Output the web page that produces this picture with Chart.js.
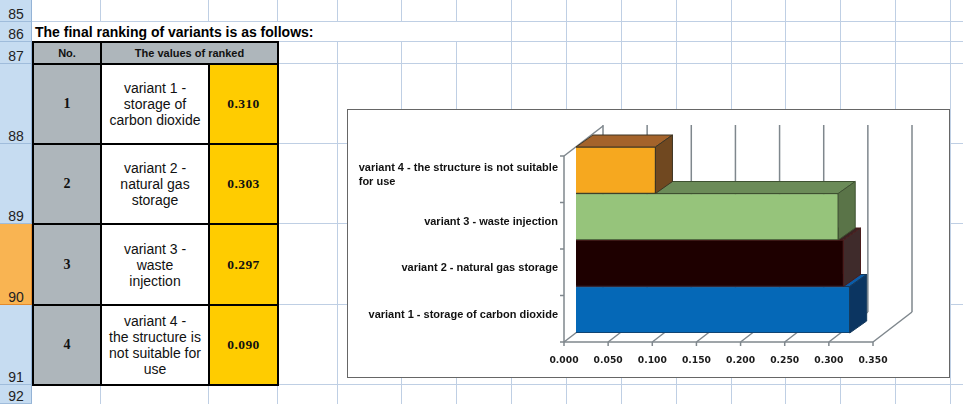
<!DOCTYPE html>
<html>
<head>
<meta charset="utf-8">
<script src="https://cdn.jsdelivr.net/npm/chart.js@4"></script>
<style>
body { margin: 0; width: 963px; height: 404px; overflow: hidden; background: #fff; position: relative;
       font-family: "Liberation Sans", Arial, sans-serif; color: #111; }
.a { position: absolute; box-sizing: border-box; }
#box { position: absolute; left: 347px; top: 109px; width: 603px; height: 269px; border: 1px solid #666;
       background: #fff; box-sizing: border-box; }
#chart { display: block; }
</style>
</head>
<body>
<div id="sheet"></div>
<div id="box"><canvas id="chart" width="601" height="267"></canvas></div>
<script>
// sheet texts
var rowNumbers = [85, 86, 87, 88, 89, 90, 91, 92];
var title      = 'The final ranking of variants is as follows:';
var headNo     = 'No.';
var headValues = 'The values of ranked';
var cellText   = ['variant 1 -<br>storage of<br>carbon dioxide',
                  'variant 2 -<br>natural gas<br>storage',
                  'variant 3 -<br>waste<br>injection',
                  'variant 4 -<br>the structure is<br>not suitable for<br>use'];

// chart data
var rankNo      = [1, 2, 3, 4];
var chartLabels = [['variant 1 - storage of carbon dioxide'],
                   ['variant 2 - natural gas storage'],
                   ['variant 3 - waste injection'],
                   ['variant 4 - the structure is not suitable', 'for use']];
var rankValues  = [0.310, 0.303, 0.297, 0.090];
var xTicks      = [0, 0.05, 0.10, 0.15, 0.20, 0.25, 0.30, 0.35];

// styles
var frontColors = ['#0568b7', '#1e0000', '#96c47b', '#f6a81f'];
var topColors   = ['#0b5ca8', '#3b2323', '#6b8b58', '#a4632b'];
var sideColors  = ['#0b3561', '#3f2b2b', '#5a7448', '#704820'];
var edgeColors  = ['#15395c', '#4a1c1c', '#3e5131', '#3d3524'];
var depth = { dx: 17, dy: -12 };
var front = { dx: -12, dy: 9 };
var back  = { dx: 27, dy: -21 };

// sheet layout
var rowY = [0, 22, 42, 64, 144, 224, 305, 385, 404];
var colX = [101, 209, 278, 338, 402, 457, 512, 567, 622, 677, 732, 786, 841, 896, 951];
var sheet = document.getElementById('sheet');

function box(x, y, w, h, css, html) {
  var d = document.createElement('div');
  d.className = 'a';
  d.style.cssText = 'left:' + x + 'px;top:' + y + 'px;width:' + w + 'px;height:' + h + 'px;' + (css || '');
  if (html != null) d.innerHTML = html;
  sheet.appendChild(d);
  return d;
}

// gridlines
for (var i = 1; i < rowY.length - 1; i++) box(32, rowY[i] - 1, 931, 1, 'background:#bfcfe4');
colX.forEach(function(x) {
  if (x < 512) {
    box(x - 1, 0, 1, rowY[1], 'background:#bfcfe4');
    box(x - 1, rowY[2], 1, 404 - rowY[2], 'background:#bfcfe4');
  } else {
    box(x - 1, 0, 1, 404, 'background:#bfcfe4');
  }
});

// row headers
rowNumbers.forEach(function(n, i) {
  var y = rowY[i], h = rowY[i + 1] - rowY[i];
  var active = n == 90;
  box(0, y, 32, h, 'background:' + (active ? '#f9b452' : '#c6dcf1') + ';border-right:1px solid ' +
      (active ? '#e38a2c' : '#94b3d6') + ';border-bottom:1px solid ' + (active ? '#e38a2c' : '#9fbcdb'));
  box(0, y + h - 15, 32, 15, 'font-size:14px;line-height:15px;text-align:center;color:#222', String(n));
});

// title
box(35, rowY[1], 480, 20, 'font-weight:bold;font-size:14px;line-height:20px;color:#000;white-space:nowrap', title);

// table
var cellCss = 'display:flex;align-items:center;justify-content:center;text-align:center;';
box(33, rowY[2], 68, rowY[3] - rowY[2], cellCss + 'background:#aeb6bb;font-weight:bold;font-size:11px', headNo);
box(101, rowY[2], 177, rowY[3] - rowY[2], cellCss + 'background:#aeb6bb;font-weight:bold;font-size:11px', headValues);
rankNo.forEach(function(n, i) {
  var y = rowY[i + 3], h = rowY[i + 4] - y;
  box(33, y, 68, h, cellCss + 'background:#aeb6bb;font-family:"Liberation Serif",serif;font-weight:bold;font-size:14px', String(n));
  box(101, y, 108, h, cellCss + 'background:#fff;font-size:14px;line-height:16px', cellText[i]);
  box(209, y, 69, h, cellCss + 'background:#ffcc00;font-family:"Liberation Serif",serif;font-weight:bold;font-size:13.5px;letter-spacing:0.4px',
      rankValues[i].toFixed(3));
});
[rowY[2], rowY[3], rowY[4], rowY[5], rowY[6], rowY[7]].forEach(function(y) { box(32, y - 1, 247, 2, 'background:#000'); });
box(32, rowY[2] - 1, 2, rowY[7] - rowY[2] + 2, 'background:#000');
box(100, rowY[2] - 1, 2, rowY[7] - rowY[2] + 2, 'background:#000');
box(208, rowY[3] - 1, 2, rowY[7] - rowY[3] + 2, 'background:#000');
box(277, rowY[2] - 1, 2, rowY[7] - rowY[2] + 2, 'background:#000');

// chart
function line(c, x1, y1, x2, y2) {
  c.beginPath(); c.moveTo(x1, y1); c.lineTo(x2, y2); c.stroke();
}
function poly(c, pts, fill) {
  c.beginPath();
  c.moveTo(pts[0][0], pts[0][1]);
  for (var k = 1; k < pts.length; k++) c.lineTo(pts[k][0], pts[k][1]);
  c.closePath();
  c.fillStyle = fill; c.fill(); c.stroke();
}

var frame3d = {
  id: 'frame3d',
  beforeDatasetsDraw: function(chart) {
    var c = chart.ctx, a = chart.chartArea, xs = chart.scales.x, ys = chart.scales.y;
    var last = xTicks[xTicks.length - 1];
    c.save();
    c.strokeStyle = '#7f878d';
    c.lineWidth = 1.5;
    // back wall
    xTicks.forEach(function(v) {
      var x = xs.getPixelForValue(v) + back.dx;
      line(c, x, a.top + back.dy - 1, x, a.bottom + back.dy);
    });
    // floor
    var fy = a.bottom + front.dy;
    line(c, xs.getPixelForValue(0) + front.dx, fy, xs.getPixelForValue(last) + front.dx, fy);
    xTicks.forEach(function(v) {
      var x = xs.getPixelForValue(v);
      line(c, x + front.dx, fy, x + back.dx, a.bottom + back.dy);
      line(c, x + front.dx, fy, x + front.dx, fy + 4);
    });
    // left wall
    var lx = a.left + front.dx;
    line(c, lx, a.top + front.dy, lx, fy);
    line(c, lx, a.top + front.dy, a.left + back.dx, a.top + back.dy);
    for (var i = 0; i <= chartLabels.length; i++) {
      var y = ys.getPixelForValue(i - 0.5) + front.dy;
      line(c, lx - 4, y, lx, y);
    }
    // bar depth faces
    chart.getDatasetMeta(0).data.forEach(function(bar, i) {
      var p = bar.getProps(['x', 'y', 'base', 'height'], true);
      var l = p.base, r = p.x, t = p.y - p.height / 2, b = p.y + p.height / 2;
      c.strokeStyle = edgeColors[i];
      c.lineWidth = 1;
      poly(c, [[l, t], [r, t], [r + depth.dx, t + depth.dy], [l + depth.dx, t + depth.dy]], topColors[i]);
      poly(c, [[r, t], [r + depth.dx, t + depth.dy], [r + depth.dx, b + depth.dy], [r, b]], sideColors[i]);
    });
    c.restore();
  }
};

var catLabels = {
  id: 'catLabels',
  afterDraw: function(chart) {
    var c = chart.ctx, a = chart.chartArea, ys = chart.scales.y;
    c.save();
    c.font = 'bold 11px "Liberation Sans", Arial, sans-serif';
    c.fillStyle = '#111';
    c.textBaseline = 'middle';
    var right = a.left - 18;
    chartLabels.forEach(function(lines, i) {
      var w = Math.max.apply(null, lines.map(function(s) { return c.measureText(s).width; }));
      var y0 = ys.getPixelForValue(i) + 5 - (lines.length - 1) * 7;
      lines.forEach(function(s, k) { c.fillText(s, right - w, y0 + k * 14); });
    });
    c.restore();
  }
};

new Chart(document.getElementById('chart'), {
  type: 'bar',
  data: {
    labels: chartLabels,
    datasets: [{
      data: rankValues,
      backgroundColor: frontColors,
      borderColor: edgeColors,
      borderWidth: 1,
      barPercentage: 1,
      categoryPercentage: 1
    }]
  },
  options: {
    indexAxis: 'y',
    responsive: false,
    animation: false,
    layout: { padding: { top: 37, right: 64, left: 0, bottom: 0 } },
    plugins: { legend: { display: false }, tooltip: { enabled: false } },
    scales: {
      x: {
        min: 0, max: 0.35,
        afterBuildTicks: function(s) { s.ticks = xTicks.map(function(v) { return { value: v }; }); },
        afterFit: function(s) { s.height = 44; },
        ticks: {
          callback: function(v) { return Number(v).toFixed(3); },
          labelOffset: -12, padding: 22, maxRotation: 0, autoSkip: false,
          color: '#1a1a1a', font: { family: '"DejaVu Sans"', weight: 'bold', size: 9.2 }
        },
        grid: { display: false, drawTicks: false },
        border: { display: false }
      },
      y: {
        reverse: true,
        afterFit: function(s) { s.width = 228; },
        ticks: { display: false },
        grid: { display: false, drawTicks: false },
        border: { display: false }
      }
    }
  },
  plugins: [frame3d, catLabels]
});
</script>
</body>
</html>
